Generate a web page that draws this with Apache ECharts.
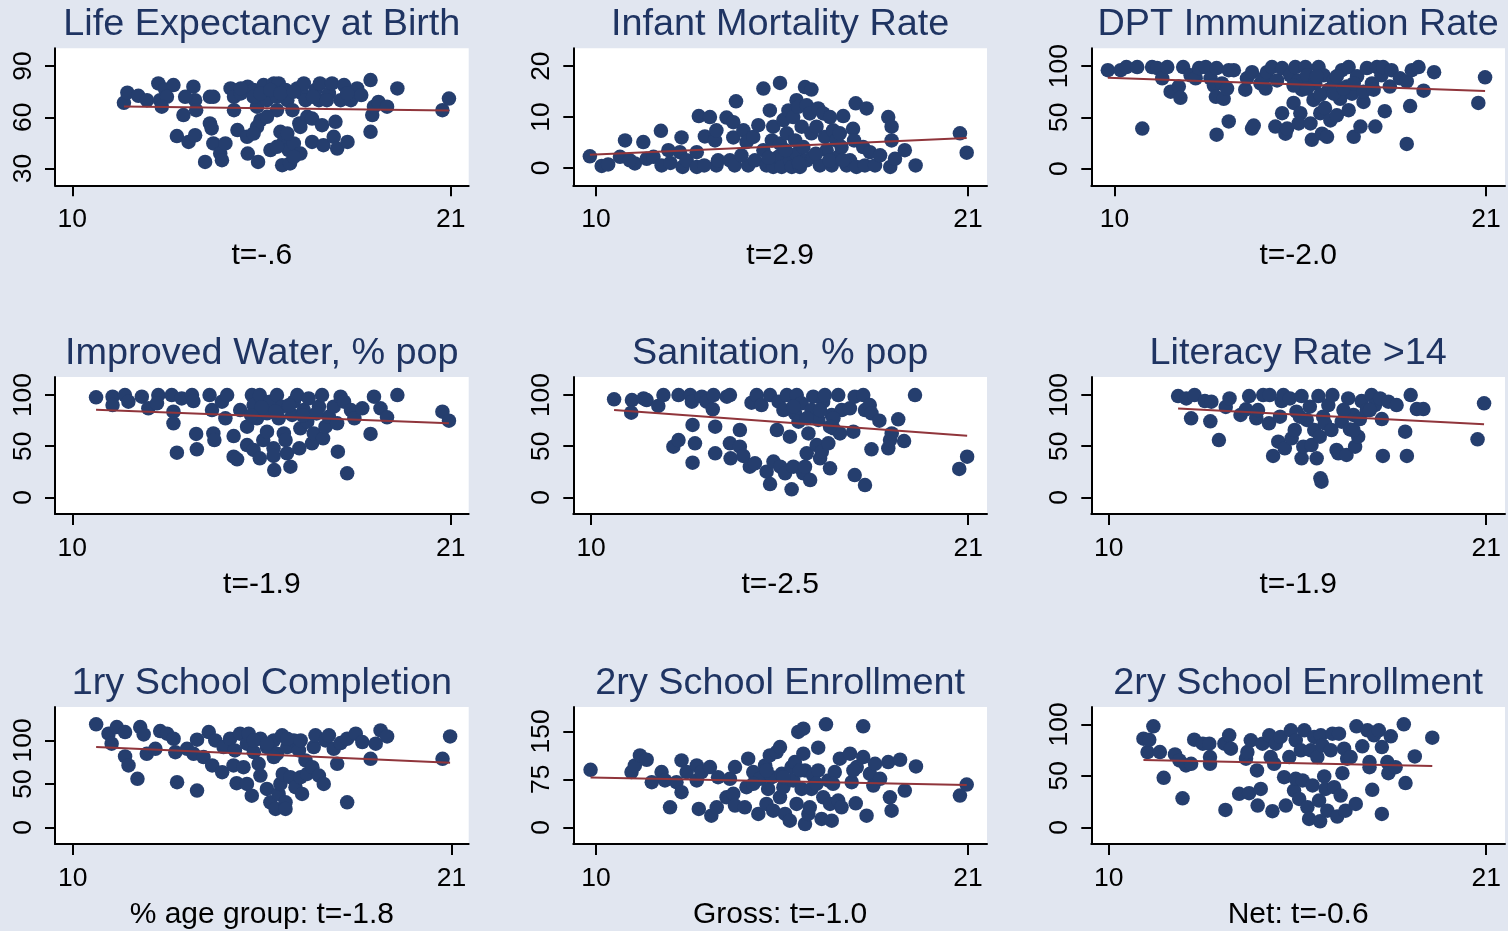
<!DOCTYPE html>
<html><head><meta charset="utf-8">
<script src="https://cdn.jsdelivr.net/npm/echarts@6/dist/echarts.min.js"></script>
<style>html,body{margin:0;padding:0;background:#e1e6f0}#c{width:1508px;height:931px}</style>
</head><body><div id="c"></div>
<script>
// ---------------- DATA ----------------
const titles = ['Life Expectancy at Birth','Infant Mortality Rate','DPT Immunization Rate',
  'Improved Water, % pop','Sanitation, % pop','Literacy Rate >14',
  '1ry School Completion','2ry School Enrollment','2ry School Enrollment'];
const notes = ['t=-.6','t=2.9','t=-2.0','t=-1.9','t=-2.5','t=-1.9','% age group: t=-1.8','Gross: t=-1.0','Net: t=-0.6'];
const xTickValues = [10, 21];
const yTickValues = [[30,60,90],[0,10,20],[0,50,100],[0,50,100],[0,50,100],[0,50,100],[0,50,100],[0,75,150],[0,50,100]];

const lifeExpectancy = [[11.5,68.5],[11.6,74.4],[11.92,72.6],[12.17,70],[12.5,79.8],[12.55,70],[12.7,76.3],[12.94,78.9],[12.75,72],[12.6,66.2],[13.04,49],[13.23,61.3],[13.38,45.6],[13.57,49.5],[13.52,77.9],[13.57,70],[13.6,64.2],[13.28,72],[13.86,33.9],[14.0,72],[14.1,72],[14.0,56.4],[14.05,53.5],[14.1,44.7],[14.3,38.8],[14.35,34.9],[14.45,44.7],[14.6,76.9],[14.7,64.2],[14.7,72],[14.8,52.5],[14.9,74],[15.08,48.6],[15.1,38.8],[15.1,77.9],[15.27,76],[15.37,66.2],[15.4,33.9],[15.47,58.3],[15.56,78.9],[15.66,70],[15.37,54.4],[15.27,50.5],[15.76,40.8],[15.86,79.8],[15.95,72],[15.95,64.2],[16.0,79.8],[16.05,51.5],[16.1,32],[16.15,45.6],[16.2,76],[16.25,70],[16.29,40.8],[16.33,33],[16.4,64.2],[16.44,44.7],[16.54,76.9],[16.6,56.4],[16.63,38.8],[16.68,74],[16.73,79.8],[16.78,70],[16.83,60.3],[16.97,59.3],[16.97,45.6],[17.07,76],[17.17,70],[17.2,79.8],[17.26,55.4],[17.3,43.7],[17.46,74],[17.55,79.8],[17.6,48.6],[17.65,57.4],[17.7,41.7],[17.8,70],[17.9,78.9],[18.0,45.6],[18.1,70],[18.2,73],[18.28,76.9],[18.4,73],[18.67,81.8],[18.67,51.5],[18.72,61.3],[18.77,66.2],[18.9,69],[19.15,66.2],[19.45,76.9],[20.76,64.2],[20.95,71],[14.9,76.9],[15.27,72],[15.47,74],[15.76,76],[16.05,74],[16.44,75],[17.0,72],[17.4,70],[17.99,74],[15.66,60.3],[16.25,50.5],[15.95,42.7],[16.44,36.8],[16.63,54.4]];

const infantMortality = [[9.82,2.3],[10.17,0.4],[10.36,0.7],[10.71,2.2],[10.86,5.4],[11.15,0.9],[11.4,5.1],[11.5,1.8],[11.7,2.2],[11.92,7.3],[11.94,0.5],[12.14,3.5],[12.48,3.1],[12.53,6.0],[12.56,0.2],[12.68,1.5],[12.98,3.1],[12.98,0.2],[13.04,10.2],[13.22,6.2],[13.37,10.0],[13.52,5.4],[13.56,7.4],[13.56,0.5],[13.61,1.5],[13.86,9.9],[14.06,9.0],[14.06,6.0],[13.96,1.5],[14.1,0.5],[14.14,13.1],[14.36,7.4],[14.45,5.1],[14.5,0.5],[14.65,6.1],[14.7,1.5],[14.8,8.4],[14.95,15.6],[14.95,3.5],[15.04,0.5],[15.14,11.3],[15.2,5.4],[15.24,8.1],[15.24,0.2],[15.39,2.2],[15.44,16.7],[15.44,4.8],[15.49,0.2],[15.54,9.4],[15.64,6.8],[15.69,11.3],[15.74,1.5],[15.79,0.2],[15.83,10.0],[15.89,5.4],[15.93,13.3],[15.93,2.8],[15.98,12.0],[16.03,0.2],[16.08,8.1],[16.13,4.1],[16.18,15.9],[16.23,12.3],[16.23,1.5],[16.32,10.7],[16.37,15.4],[16.37,6.8],[16.42,2.2],[16.52,8.1],[16.57,11.7],[16.62,0.5],[16.72,10.7],[16.77,6.1],[16.82,3.5],[16.92,10.0],[16.97,0.5],[17.01,7.4],[17.11,5.4],[17.16,2.2],[17.21,6.8],[17.26,4.1],[17.31,10.2],[17.41,0.5],[17.51,1.5],[17.6,7.7],[17.63,5.4],[17.68,12.7],[17.7,0.2],[17.9,4.1],[17.95,0.5],[18.0,11.7],[18.1,3.1],[18.25,0.5],[18.4,2.5],[18.64,10.0],[18.7,0.2],[18.74,8.1],[18.74,5.4],[18.84,1.8],[19.13,3.5],[19.45,0.5],[20.76,6.8],[20.96,3.0],[15.1,2.0],[15.6,3.5],[16.0,1.0],[16.5,2.8],[16.9,1.5],[17.3,1.5],[14.3,2.5],[13.2,0.5],[12.2,1.0],[11.0,1.5]];

const dptImmunization = [[9.8,96],[10.18,96],[10.35,99],[10.67,99],[10.82,39],[11.11,99],[11.26,98],[11.41,88],[11.56,99],[11.66,75],[11.9,80],[11.95,69],[12.03,99],[12.25,91],[12.4,88],[12.5,98],[12.7,99],[12.84,88],[12.94,81],[13.0,70],[13.02,33],[13.02,98],[13.18,83],[13.23,68],[13.33,78],[13.38,96],[13.53,96],[13.38,46],[13.87,77],[13.92,88],[14.07,94],[14.07,39],[14.12,42],[14.32,83],[14.42,88],[14.47,78],[14.51,94],[14.66,99],[14.76,41],[14.81,86],[14.96,54],[14.96,98],[15.06,34],[15.11,39],[15.2,91],[15.3,64],[15.35,99],[15.45,86],[15.5,54],[15.45,44],[15.55,77],[15.65,99],[15.7,91],[15.8,44],[15.84,28],[15.89,67],[15.94,83],[16.04,99],[16.09,54],[16.14,34],[16.19,91],[16.23,59],[16.29,31],[16.34,77],[16.39,47],[16.49,86],[16.58,52],[16.68,68],[16.73,96],[16.88,80],[16.93,99],[16.93,57],[17.03,73],[17.08,31],[17.18,90],[17.28,41],[17.37,65],[17.47,98],[17.62,83],[17.72,41],[17.77,99],[17.9,91],[17.95,99],[18.0,56],[18.15,80],[18.2,96],[18.45,88],[18.65,85],[18.65,24],[18.75,61],[18.8,96],[19.0,99],[19.15,76],[19.46,94],[20.77,64],[20.97,89],[15.3,81],[15.7,78],[16.09,72],[16.49,73],[16.78,78],[17.08,83],[17.37,75],[17.67,77],[15.99,90],[16.58,90]];

const improvedWater = [[10.69,97.7],[11.17,98.4],[11.17,90.2],[11.53,100],[11.63,93.5],[12.02,98.4],[12.21,87],[12.5,100],[12.46,91.9],[12.89,100],[12.94,83.7],[12.94,72.3],[13.04,43.6],[13.18,96.7],[13.48,100],[13.52,94.1],[13.6,61.9],[13.62,46.9],[13.99,100],[14.06,85.3],[14.1,62.5],[14.13,56],[14.35,93.5],[14.45,77.2],[14.5,100],[14.69,59.9],[14.69,39.7],[14.79,37.1],[14.88,85.3],[15.08,69],[15.08,51.1],[15.22,100],[15.27,90.2],[15.27,46.3],[15.37,77.2],[15.45,38.1],[15.45,100],[15.55,56],[15.66,82.1],[15.66,64.2],[15.75,93.5],[15.85,47.9],[15.85,40.4],[15.87,26.7],[15.95,100],[16.0,77.2],[16.1,88.6],[16.15,62.5],[16.2,56],[16.24,43],[16.34,30],[16.39,80.5],[16.44,93.5],[16.54,100],[16.6,47.9],[16.63,67.4],[16.73,85.3],[16.83,73.9],[16.87,96.7],[16.97,52.8],[17.02,62.5],[17.17,88.6],[17.26,100],[17.29,57.7],[17.36,69],[17.46,78.8],[17.6,88.6],[17.7,72.3],[17.72,44.6],[17.8,98.4],[17.9,93.5],[17.99,23.5],[18.1,85.3],[18.2,77.2],[18.43,87],[18.67,61.9],[18.77,98.4],[18.96,87],[19.15,78.2],[19.45,100],[20.76,83.7],[20.95,74.9],[15.5,88],[15.9,84],[16.3,90],[16.7,80],[15.2,80],[17.1,82]];

const sanitation = [[10.67,95.8],[11.19,95.1],[11.17,82.7],[11.53,96.7],[11.62,95.1],[11.96,89.3],[12.11,100],[12.4,49.5],[12.55,56],[12.55,100],[12.89,100],[12.94,93.5],[12.96,70.7],[13.03,52.8],[12.96,33.9],[13.23,98.4],[13.37,93.5],[13.55,86],[13.57,100],[13.62,69],[13.62,43],[13.96,98.4],[14.05,100],[14.05,52.8],[14.07,38.1],[14.34,65.8],[14.34,49.5],[14.44,40.4],[14.63,30],[14.68,92.5],[14.78,33.2],[14.83,100],[14.97,90.2],[15.12,25.1],[15.22,100],[15.22,13],[15.32,34.9],[15.42,65.8],[15.47,93.5],[15.52,30],[15.61,85.3],[15.66,23.5],[15.71,100],[15.8,59.3],[15.85,7.8],[15.9,30],[15.95,82.1],[16.0,100],[16.05,73.9],[16.14,91.9],[16.19,23.5],[16.24,30],[16.29,43],[16.34,62.5],[16.39,16.9],[16.43,85.3],[16.48,98.4],[16.58,51.1],[16.63,75.6],[16.68,38.1],[16.73,44.6],[16.77,93.5],[16.82,100],[16.92,52.8],[16.97,28.3],[17.02,80.5],[17.07,67.4],[17.21,100],[17.26,62.5],[17.31,85.3],[17.55,87],[17.65,64.2],[17.69,21.8],[17.69,98.4],[17.94,100],[17.99,12],[17.99,85.3],[18.13,90.2],[18.18,46.9],[18.18,82.1],[18.41,74.9],[18.67,47.9],[18.72,56],[18.77,62.5],[18.96,76.2],[19.13,55],[19.45,100],[20.74,27.7],[20.97,39.7],[15.9,88.6],[16.29,77.2],[16.68,85.3],[17.07,77.2],[16.97,69]];

const literacy = [[12.02,99],[12.26,96.7],[12.5,100],[12.4,77.2],[12.8,94.1],[12.99,93.5],[12.96,74.3],[13.21,56],[13.41,88.3],[13.52,96.7],[13.84,80.5],[14.0,86],[14.09,99],[14.3,77.2],[14.35,85.3],[14.5,100],[14.67,72.3],[14.69,100],[14.79,40.4],[14.94,54.4],[14.99,78.8],[15.04,94.1],[15.09,100],[15.13,47.9],[15.28,96.7],[15.33,57.7],[15.42,65.8],[15.47,83.7],[15.62,38.1],[15.62,99],[15.67,49.5],[15.77,75.6],[15.86,88.6],[15.91,51.1],[15.99,65.8],[16.06,38.1],[16.11,99],[16.15,59.3],[16.17,18.6],[16.2,15.3],[16.25,78.8],[16.3,72.3],[16.4,90.2],[16.49,65.8],[16.52,100],[16.64,46.3],[16.69,43],[16.79,73.9],[16.93,41.4],[16.98,96.7],[17.03,66.4],[17.13,80.5],[17.18,49.5],[17.27,59.3],[17.32,76.5],[17.37,94.1],[17.52,85.3],[17.66,100],[17.76,90.2],[17.91,96.7],[17.96,76.5],[17.99,40.4],[18.15,93.5],[18.39,90.2],[18.64,64.2],[18.69,40.4],[18.8,100],[18.98,86.3],[19.17,86.3],[20.75,56.7],[20.94,91.9],[16.84,85.3],[17.61,85.3],[15.57,78.8],[17.13,65.8]];

const primaryCompletion = [[10.68,118.5],[11.04,107.7],[11.13,96.2],[11.28,115.4],[11.52,109.6],[11.52,81.5],[11.62,71.2],[11.88,55.8],[11.96,115.4],[12.06,106.9],[12.15,84.6],[12.4,90.4],[12.54,110.8],[12.74,107.7],[12.93,101.9],[12.98,86.5],[13.03,51.9],[13.32,90.4],[13.51,84.6],[13.61,100.8],[13.61,42.3],[13.8,80.8],[13.95,109.6],[14.05,71.2],[14.14,100],[14.34,63.5],[14.38,92.3],[14.57,101.9],[14.67,71.2],[14.71,88.5],[14.76,50.8],[14.86,107.7],[14.96,69.2],[15.06,50],[15.06,96.2],[15.11,107.7],[15.2,36.5],[15.26,86.5],[15.4,73.1],[15.45,59.6],[15.45,101.9],[15.64,44.2],[15.64,92.3],[15.74,28.8],[15.84,100],[15.89,21.2],[15.93,84.6],[15.98,38.5],[16.03,50],[16.08,105.8],[16.1,61.5],[16.18,28.8],[16.18,21.2],[16.23,92.3],[16.32,57.7],[16.42,100],[16.47,46.2],[16.57,88.5],[16.62,57.7],[16.66,38.5],[16.76,76.9],[16.81,61.5],[16.96,69.2],[17.0,92.3],[17.05,105.8],[17.15,59.6],[17.29,50],[17.34,100],[17.44,105.8],[17.58,90.4],[17.68,73.1],[17.78,96.9],[17.97,28.8],[17.97,101.9],[18.22,107.7],[18.41,98.1],[18.65,78.8],[18.8,96.2],[18.94,111.5],[19.13,104.6],[20.74,78.8],[20.96,104.6],[15.26,100],[15.64,96.2],[16.23,101.9],[16.62,100],[15.84,80.8]];

const secondaryGross = [[9.84,89.9],[11.05,86.3],[11.15,96.7],[11.3,112.4],[11.5,105.6],[11.65,70.6],[11.94,86.3],[12.04,73.2],[12.19,31.4],[12.38,70.6],[12.53,104.5],[12.53,54.9],[12.68,86.3],[12.98,96.7],[12.98,73.2],[13.04,28.8],[13.12,86.3],[13.37,94.1],[13.41,18.3],[13.57,31.4],[13.61,78.4],[13.86,47],[13.96,75.8],[14.06,52.3],[14.11,94.1],[14.11,34],[14.4,31.4],[14.45,62.7],[14.5,107.2],[14.65,86.3],[14.8,20.9],[14.85,75.8],[15.0,96.7],[15.04,36.6],[15.09,60.1],[15.14,112.4],[15.2,78.4],[15.24,26.1],[15.34,117.6],[15.44,125.5],[15.44,47],[15.49,83.6],[15.54,62.7],[15.59,20.9],[15.73,10.5],[15.78,94.1],[15.83,73.2],[15.88,101.9],[15.93,36.6],[15.98,149],[16.08,60.1],[16.13,154.2],[16.13,115],[16.18,88.9],[16.18,5.2],[16.28,20.9],[16.32,31.4],[16.37,60.1],[16.42,81],[16.57,124.4],[16.57,88.9],[16.67,13.1],[16.72,47],[16.8,161],[16.87,73.2],[16.92,36.6],[16.97,10.5],[17.06,86.3],[17.16,41.8],[17.21,107.2],[17.26,31.4],[17.51,115],[17.56,70.6],[17.68,37.6],[17.71,94.1],[17.9,157.9],[17.9,109.8],[18.0,18.3],[18.1,83.6],[18.2,65.3],[18.25,99.3],[18.4,75.8],[18.64,101.9],[18.69,47],[18.74,26.1],[18.99,105.6],[19.13,57.5],[19.46,95.1],[20.76,49.7],[20.96,66.9],[15.04,88.9],[15.54,78.4],[16.03,88.9],[16.52,68],[17.01,68],[17.61,88.9],[14.65,68]];

const secondaryNet = [[11.01,86],[11.13,73],[11.18,85],[11.3,98],[11.49,73],[11.6,48],[11.93,70.8],[12.06,64.9],[12.15,28.2],[12.25,60.1],[12.4,61.7],[12.49,85.1],[12.74,81.2],[12.93,81.2],[12.95,68.2],[12.95,61.7],[13.37,81.2],[13.4,16.9],[13.51,89.3],[13.56,76.3],[13.8,32.5],[14.0,66.6],[14.04,73],[14.09,33.1],[14.14,84.4],[14.32,55.2],[14.34,21.1],[14.43,37.3],[14.48,81.2],[14.68,89.3],[14.72,68.2],[14.77,15.6],[14.82,61.7],[14.87,81.2],[15.01,87.7],[15.11,48.7],[15.16,21.1],[15.26,68.2],[15.31,94.2],[15.4,35.7],[15.45,84.4],[15.45,47.1],[15.55,27.6],[15.6,74.7],[15.65,45.5],[15.7,94.2],[15.79,19.5],[15.84,8.1],[15.89,74.7],[15.94,40.6],[15.99,87.7],[16.08,68.2],[16.13,26],[16.16,5.8],[16.18,89.3],[16.23,79.5],[16.28,49.4],[16.32,37.3],[16.37,16.2],[16.47,74.7],[16.52,90.9],[16.57,39],[16.66,10.4],[16.71,90.9],[16.76,30.8],[16.81,52.6],[16.86,76.3],[16.9,16.2],[16.95,66.6],[17.05,68.2],[17.2,22.7],[17.22,98],[17.39,78.6],[17.54,94.2],[17.6,63.3],[17.6,58.4],[17.68,36.4],[17.73,89.3],[17.87,94.2],[17.96,13],[17.96,77.9],[18.12,63.3],[18.15,52.6],[18.22,88.3],[18.36,58.4],[18.6,100],[18.65,42.9],[18.92,68.8],[19.43,87]];

// fitted regression lines: [xStart, yStart, xEnd, yEnd]
const fitLines = [[11.5,66.4,20.95,64.0],[9.82,2.6,20.96,5.9],[9.8,88.6,20.97,75.6],
  [10.69,85.5,20.95,72.5],[10.67,85.4,20.97,60.2],[12.02,86.8,20.94,71.5],
  [10.68,92.3,20.96,74.2],[9.84,78.0,20.96,66.0],[11.01,65.3,19.43,59.5]];

const panelData = [lifeExpectancy, infantMortality, dptImmunization, improvedWater, sanitation, literacy, primaryCompletion, secondaryGross, secondaryNet];

// ---------------- LAYOUT ----------------
const colLeft = [55, 573.3, 1091.3];
const rowTop = [48.3, 377, 707];
const gridW = 413.7, gridH = 137;
const xRange = [[9.496,21.524],[9.33,21.56],[9.31,21.56],[9.496,21.524],[9.48,21.55],[9.49,21.55],[9.485,21.50],[9.33,21.56],[9.49,21.55]];
const yRange = [[20.2,100.4],[-3.4,23.5],[-16.3,117.3],[-16.3,117.6],[-16.3,117.6],[-16.3,117.6],[-19.1,138.4],[-26,188],[-16.2,116.8]];

const FONT = '"Liberation Sans", Arial, Helvetica, sans-serif';
const NAVY = '#1f3462', MARK = '#253e6e', FIT = '#90353b', BG = '#e1e6f0';

const grids = [], xAxes = [], yAxes = [], series = [], graphics = [];
for (let i = 0; i < 9; i++) {
  const r = Math.floor(i / 3), c = i % 3;
  const left = colLeft[c], top = rowTop[r];
  grids.push({left: left, top: top, width: gridW, height: gridH, show: true, backgroundColor: '#ffffff', borderWidth: 0, containLabel: false});
  xAxes.push({type: 'value', gridIndex: i, min: xRange[i][0], max: xRange[i][1],
    axisLine: {show: true, onZero: false, lineStyle: {color: '#000', width: 2}},
    axisTick: {show: true, length: 11, customValues: xTickValues, lineStyle: {color: '#000', width: 2}},
    axisLabel: {show: true, customValues: xTickValues, margin: 21, color: '#000', fontSize: 26.5, fontFamily: FONT},
    splitLine: {show: false}});
  yAxes.push({type: 'value', gridIndex: i, min: yRange[i][0], max: yRange[i][1],
    axisLine: {show: true, onZero: false, lineStyle: {color: '#000', width: 2}},
    axisTick: {show: true, length: 10, customValues: yTickValues[i], lineStyle: {color: '#000', width: 2}},
    axisLabel: {show: true, customValues: yTickValues[i], rotate: 90, margin: 18, color: '#000', fontSize: 26.5, fontFamily: FONT},
    splitLine: {show: false}});
  series.push({type: 'scatter', xAxisIndex: i, yAxisIndex: i, data: panelData[i], symbol: 'circle', symbolSize: 14.5,
    itemStyle: {color: MARK, opacity: 1}, z: 2, silent: true, animation: false});
  const f = fitLines[i];
  series.push({type: 'line', xAxisIndex: i, yAxisIndex: i, data: [[f[0], f[1]], [f[2], f[3]]], showSymbol: false, symbol: 'none',
    lineStyle: {color: FIT, width: 2}, z: 3, silent: true, animation: false});
  const cx = left + gridW / 2;
  graphics.push({type: 'text', x: cx, y: top - 23.5, style: {text: titles[i], font: '37.8px ' + FONT, fill: NAVY, align: 'center', verticalAlign: 'middle'}});
  graphics.push({type: 'text', x: cx, y: top + gridH + 70.5, style: {text: notes[i], font: '30px ' + FONT, fill: '#000', align: 'center', verticalAlign: 'middle'}});
}

const chart = echarts.init(document.getElementById('c'), null, {renderer: 'canvas'});
chart.setOption({
  backgroundColor: BG,
  animation: false,
  grid: grids, xAxis: xAxes, yAxis: yAxes, series: series, graphic: graphics
});
</script></body></html>
